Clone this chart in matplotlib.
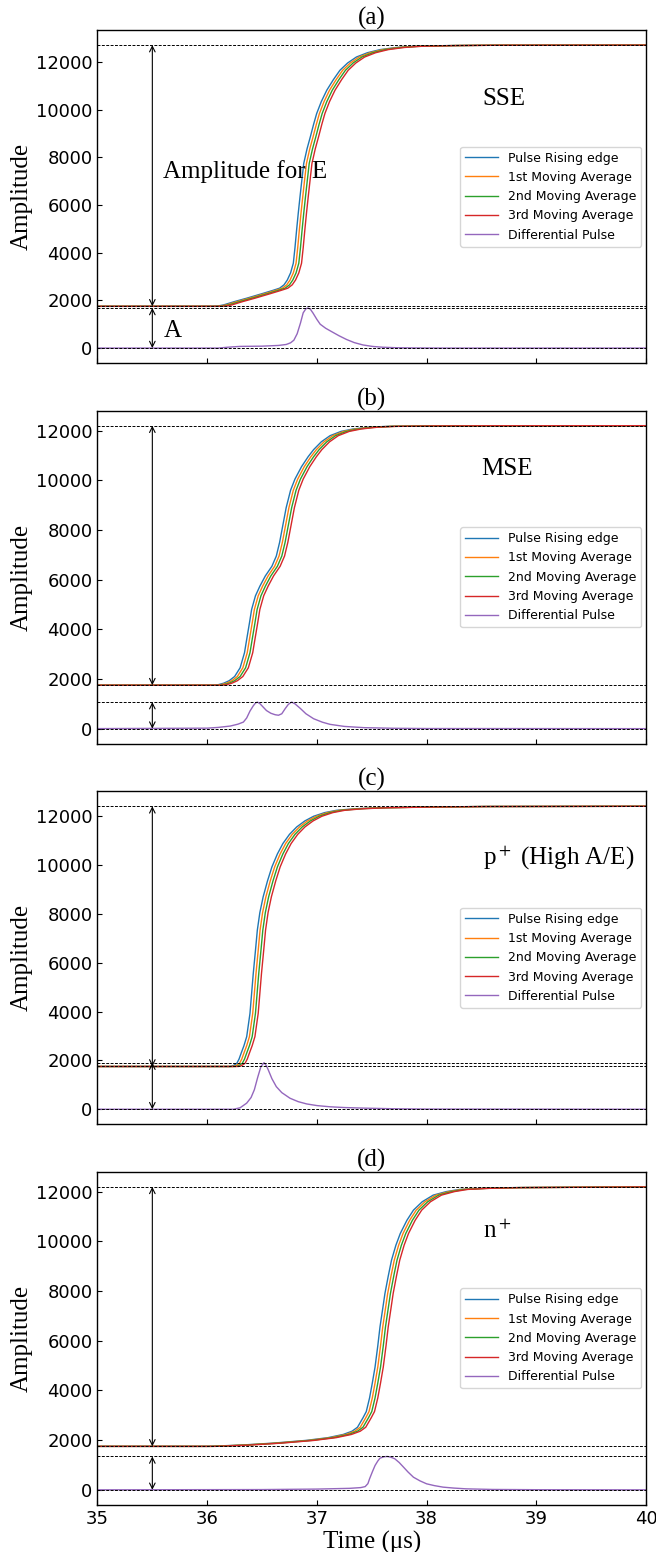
import numpy as np
import matplotlib
matplotlib.use("Agg")
import matplotlib.pyplot as plt

plt.rcParams['mathtext.fontset'] = 'stix'

serif = 'Liberation Serif'

# pulse rising edge, time in us
t_a = [34.9, 36.05, 36.1, 36.15, 36.25, 36.36, 36.5, 36.6, 36.66, 36.7, 36.73, 36.76, 36.785, 36.8, 36.815,
       36.83, 36.846, 36.863, 36.88, 36.91, 36.94, 36.97, 36.998, 37.04, 37.09, 37.15, 37.21, 37.28, 37.36,
       37.46, 37.575, 37.72, 37.88, 38.2, 38.6, 40.0]
p_a = [1750, 1750, 1765, 1810, 1950, 2090, 2280, 2420, 2510, 2650, 2850, 3150, 3556, 4200, 4950,
       5650, 6343, 7050, 7740, 8350, 8853, 9380, 9833, 10330, 10808, 11250, 11645, 11950, 12200,
       12380, 12510, 12600, 12650, 12680, 12695, 12700]
td_a = [34.9, 36.1, 36.2, 36.3, 36.5, 36.65, 36.72, 36.76, 36.79, 36.82, 36.85, 36.875, 36.9, 36.92, 36.94,
        36.965, 37.0, 37.03, 37.08, 37.13, 37.2, 37.27, 37.34, 37.42, 37.51, 37.6, 37.72, 37.9, 38.2, 40.0]
d_a = [0, 0, 40, 70, 80, 110, 150, 220, 330, 600, 1046, 1477, 1650, 1680, 1630,
       1464, 1200, 1000, 830, 700, 520, 360, 230, 130, 67, 35, 15, 5, 0, 0]

t_b = [34.9, 36.06, 36.1, 36.15, 36.2, 36.25, 36.3, 36.34, 36.36, 36.385, 36.405, 36.44, 36.48, 36.53, 36.59,
       36.63, 36.66, 36.69, 36.72, 36.76, 36.8, 36.86, 36.92, 36.97, 37.04, 37.12, 37.22, 37.33, 37.48, 37.64,
       38.0, 38.5, 40.0]
p_b = [1750, 1750, 1770, 1830, 1930, 2100, 2450, 3057, 3592, 4250, 4799, 5350, 5736, 6150, 6540,
       6950, 7500, 8200, 8900, 9600, 10050, 10550, 10950, 11235, 11550, 11798, 11970, 12068, 12140, 12172,
       12190, 12197, 12200]
td_b = [34.9, 36.0, 36.1, 36.21, 36.28, 36.33, 36.36, 36.39, 36.42, 36.44, 36.457, 36.48, 36.51, 36.54, 36.58,
        36.62, 36.65, 36.68, 36.71, 36.74, 36.77, 36.8, 36.85, 36.9, 36.97, 37.05, 37.12, 37.25, 37.43, 37.7,
        38.0, 40.0]
d_b = [0, 20, 50, 105, 180, 265, 430, 708, 920, 1030, 1070, 1010, 870, 730, 620,
       560, 540, 600, 800, 980, 1070, 1000, 810, 600, 400, 260, 173, 90, 40, 15,
       5, 0]

t_c = [34.9, 36.21, 36.24, 36.27, 36.29, 36.31, 36.335, 36.36, 36.39, 36.42, 36.44, 36.457, 36.48, 36.51, 36.55,
       36.59, 36.64, 36.69, 36.75, 36.816, 36.89, 36.97, 37.07, 37.18, 37.35, 37.575, 38.0, 38.5, 40.0]
p_c = [1750, 1750, 1790, 1880, 2050, 2300, 2600, 2970, 3925, 5560, 6500, 7330, 8050, 8692, 9350,
       9918, 10450, 10875, 11250, 11554, 11800, 11991, 12140, 12236, 12300, 12340, 12370, 12390, 12400]
td_c = [34.9, 36.24, 36.3, 36.36, 36.4, 36.43, 36.46, 36.49, 36.518, 36.54, 36.557, 36.59, 36.63, 36.68, 36.755,
        36.83, 36.907, 37.0, 37.12, 37.25, 37.43, 37.7, 38.0, 40.0]
d_c = [0, 0, 60, 250, 480, 800, 1300, 1750, 1905, 1780, 1607, 1250, 924, 680, 450,
       310, 217, 150, 100, 70, 45, 20, 8, 0]

t_d = [34.9, 36.0, 36.3, 36.6, 36.9, 37.1, 37.24, 37.32, 37.37, 37.42, 37.45, 37.48, 37.505, 37.53, 37.555,
       37.575, 37.6, 37.62, 37.65, 37.68, 37.72, 37.76, 37.82, 37.88, 37.96, 38.06, 38.18, 38.3, 38.5, 38.8, 40.0]
p_d = [1750, 1750, 1800, 1880, 1990, 2100, 2230, 2360, 2520, 2900, 3150, 3700, 4300, 4944, 5800,
       6557, 7300, 7903, 8600, 9246, 9850, 10322, 10850, 11262, 11600, 11867, 12010, 12097, 12140, 12170, 12200]
td_d = [34.9, 36.5, 37.0, 37.3, 37.4, 37.44, 37.465, 37.48, 37.505, 37.53, 37.555, 37.575, 37.61, 37.64, 37.67,
        37.71, 37.75, 37.79, 37.83, 37.88, 37.94, 38.0, 38.07, 38.15, 38.25, 38.36, 38.6, 39.0, 40.0]
d_d = [0, 10, 30, 60, 90, 130, 250, 443, 720, 980, 1160, 1274, 1330, 1343, 1320,
       1250, 1100, 911, 720, 508, 360, 242, 170, 108, 70, 40, 15, 5, 0]

# delay of each moving average relative to the raw edge (us)
ma_lag = [0.025, 0.05, 0.075]

panels = ['(a)', '(b)', '(c)', '(d)']
kinds = ['SSE', 'MSE', r'p$^+$ (High A/E)', r'n$^+$']
kind_pos = [(38.7, 10430), (38.73, 10470), (39.2, 10270), (38.64, 10390)]
labels = ['Pulse Rising edge', '1st Moving Average', '2nd Moving Average',
          '3rd Moving Average', 'Differential Pulse']

pulses = [(t_a, p_a, td_a, d_a), (t_b, p_b, td_b, d_b),
          (t_c, p_c, td_c, d_c), (t_d, p_d, td_d, d_d)]

fig, axes = plt.subplots(4, 1, figsize=(6.56, 15.52), dpi=100, sharex=True)
plt.subplots_adjust(left=0.1486, right=0.9848, top=0.9807, bottom=0.0303, hspace=0.142)

for i, ax in enumerate(axes):
    t, p, td, d = pulses[i]
    t = np.array(t)
    ax.plot(t, p, color='C0', lw=1, label=labels[0])
    for k, lag in enumerate(ma_lag):
        ax.plot(t + lag, p, color='C%d' % (k + 1), lw=1, label=labels[k + 1])
    ax.plot(td, d, color='C4', lw=1, label=labels[4])

    top = max(p)
    base = p[0]
    amp = max(d)
    for lvl in [top, base, amp, 0]:
        ax.axhline(lvl, color='k', ls=(0, (3, 1.5)), lw=0.7)

    arr = dict(arrowstyle='<->', color='k', lw=0.8, shrinkA=0, shrinkB=0)
    ax.annotate('', xy=(35.5, top), xytext=(35.5, base), arrowprops=arr)
    ax.annotate('', xy=(35.5, amp), xytext=(35.5, 0), arrowprops=arr)

    ax.text(kind_pos[i][0], kind_pos[i][1], kinds[i], ha='center', va='center',
            fontsize=18, fontfamily=serif)

    ax.set_xlim(35, 40)
    ax.set_ylim(-0.05 * top, 1.05 * top)
    ax.set_title(panels[i], fontsize=18, fontfamily=serif, pad=3)
    ax.set_ylabel('Amplitude', fontsize=18, fontfamily=serif, labelpad=2)
    ax.tick_params(direction='in', labelsize=13)
    for s in ax.spines.values():
        s.set_linewidth(1)
    ax.legend(loc='center right', fontsize=9, borderaxespad=0.4, handlelength=2.6)

axes[0].text(35.6, 7400, 'Amplitude for E', ha='left', va='center', fontsize=18, fontfamily=serif)
axes[0].text(35.6, 720, 'A', ha='left', va='center', fontsize=18, fontfamily=serif)

axes[-1].set_xlabel('Time (μs)', fontsize=18, fontfamily=serif, labelpad=2)

fig.savefig('out.png', dpi=100)
